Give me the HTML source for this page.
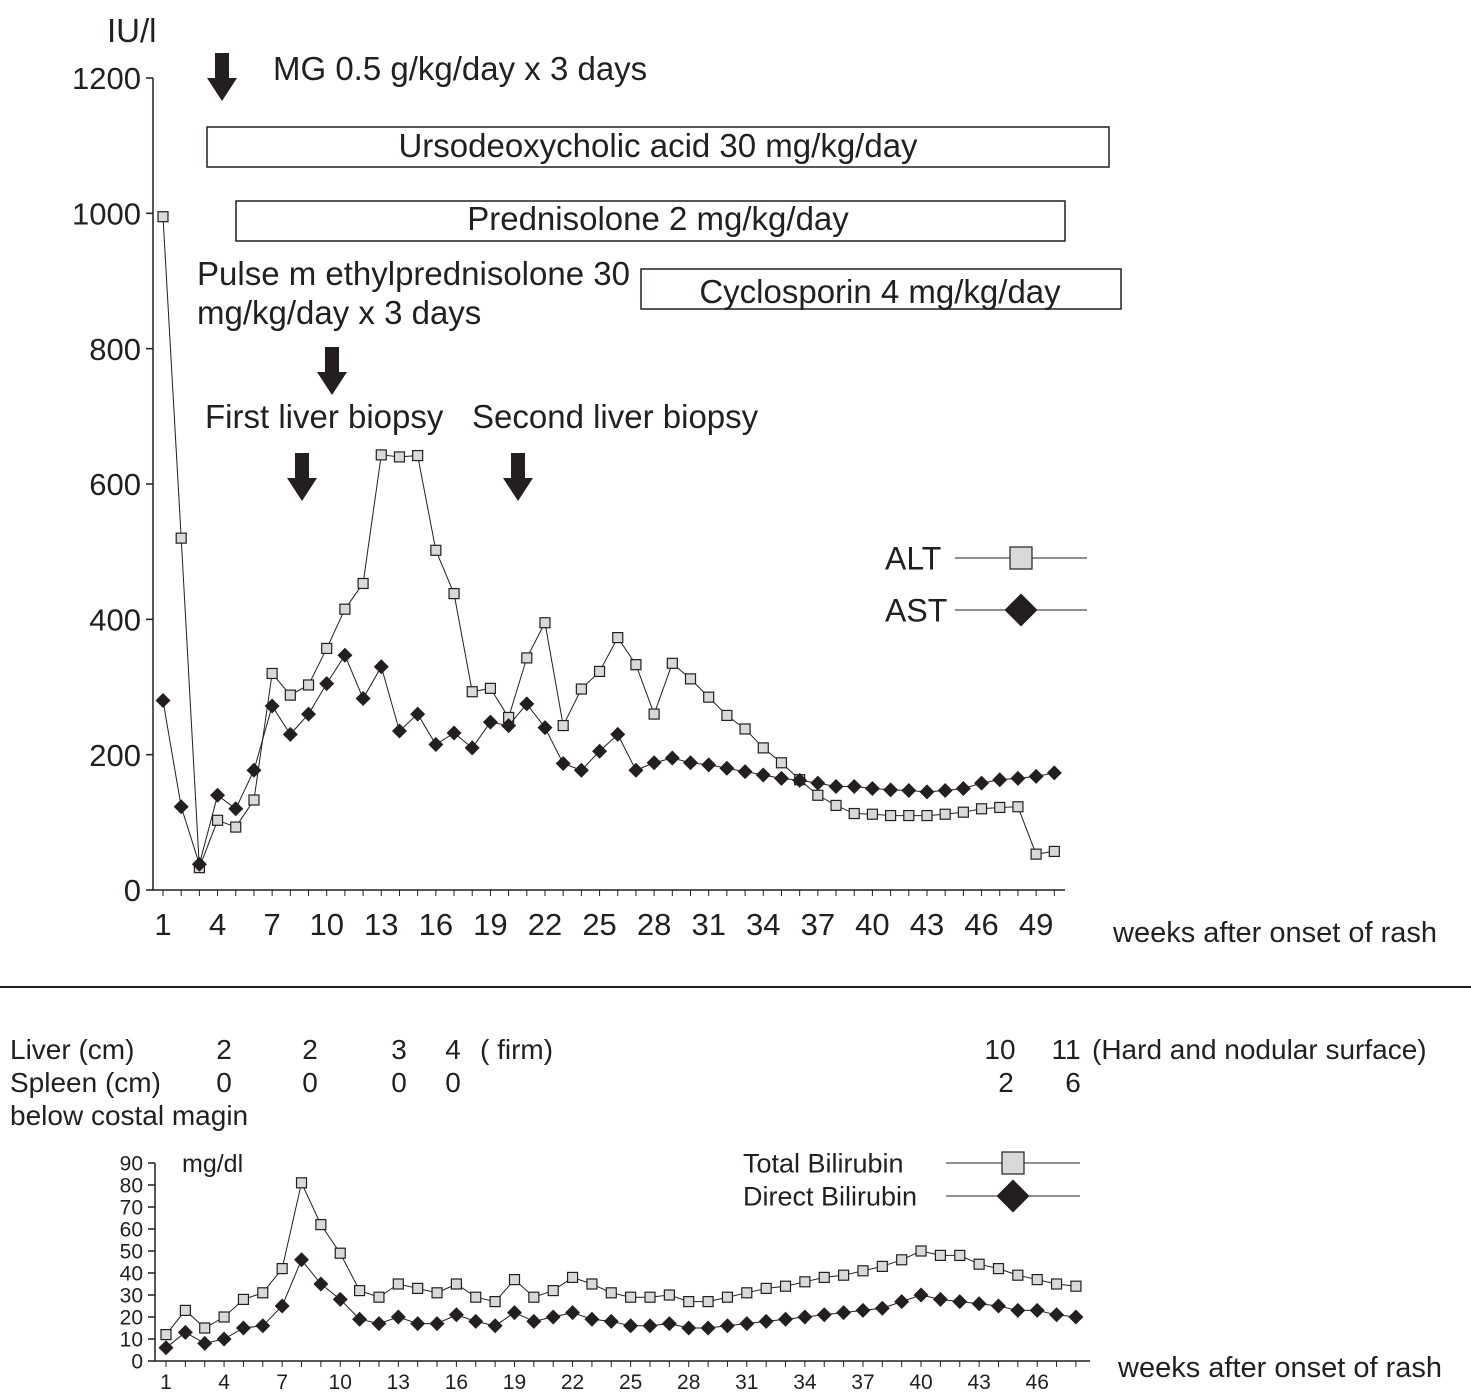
<!DOCTYPE html>
<html><head><meta charset="utf-8"><style>
body{margin:0;background:#fff}
svg{display:block;font-family:"Liberation Sans",Arial,sans-serif;fill:#231f20}
</style></head><body>
<svg id="c" width="1471" height="1395" viewBox="0 0 1471 1395">
<g id="topg"></g>
<g id="botg"></g>
<g font-size="33">
<text x="107" y="42">IU/l</text>
<text x="273" y="80">MG 0.5 g/kg/day x 3 days</text>
<rect x="207" y="127" width="902" height="40" fill="#fff" stroke="#231f20" stroke-width="1.5"/>
<text x="658" y="157" text-anchor="middle">Ursodeoxycholic acid 30 mg/kg/day</text>
<rect x="236" y="201" width="829" height="40" fill="#fff" stroke="#231f20" stroke-width="1.5"/>
<text x="658" y="230" text-anchor="middle">Prednisolone 2 mg/kg/day</text>
<rect x="641" y="269" width="480" height="40" fill="#fff" stroke="#231f20" stroke-width="1.5"/>
<text x="880" y="303" text-anchor="middle">Cyclosporin 4 mg/kg/day</text>
<text x="197" y="285">Pulse m ethylprednisolone 30</text>
<text x="197" y="324">mg/kg/day x 3 days</text>
<text x="205" y="428">First liver biopsy</text>
<text x="472" y="428">Second liver biopsy</text>
<text x="1113" y="942" font-size="29">weeks after onset of rash</text>
<line x1="0" y1="987" x2="1471" y2="987" stroke="#231f20" stroke-width="2"/>
<g font-size="28">
<text x="10" y="1059">Liver (cm)</text><text x="10" y="1092">Spleen (cm)</text><text x="10" y="1125">below costal magin</text>
<text x="224" y="1059" text-anchor="middle">2</text><text x="310" y="1059" text-anchor="middle">2</text><text x="399" y="1059" text-anchor="middle">3</text><text x="453" y="1059" text-anchor="middle">4</text><text x="480" y="1059">( firm)</text>
<text x="1000" y="1059" text-anchor="middle">10</text><text x="1066" y="1059" text-anchor="middle">11</text><text x="1092" y="1059">(Hard and nodular surface)</text>
<text x="224" y="1092" text-anchor="middle">0</text><text x="310" y="1092" text-anchor="middle">0</text><text x="399" y="1092" text-anchor="middle">0</text><text x="453" y="1092" text-anchor="middle">0</text>
<text x="1006" y="1092" text-anchor="middle">2</text><text x="1073" y="1092" text-anchor="middle">6</text>
<text x="182" y="1172" font-size="25">mg/dl</text>
<text x="1118" y="1377" font-size="29">weeks after onset of rash</text>
</g>
</g>
<g fill="#231f20">
<polygon points="215,53 229,53 229,78 237,78 222,101 207,78 215,78"/>
<polygon points="325,347 339,347 339,372 347,372 332,395 317,372 325,372"/>
<polygon points="295,453 309,453 309,478 317,478 302,501 287,478 295,478"/>
<polygon points="511,453 525,453 525,478 533,478 518,501 503,478 511,478"/>
</g>
</svg>
<script>
const NS="http://www.w3.org/2000/svg";
const weeksTop=[];for(let i=1;i<=50;i++)weeksTop.push(i);
const altValues=[995,520,33,103,93,133,320,288,303,357,415,453,643,640,642,502,438,293,298,255,343,395,243,297,323,373,333,260,335,312,285,258,238,210,188,163,140,125,113,112,110,110,110,112,115,120,122,123,53,57];
const astValues=[280,123,38,140,120,177,272,230,260,305,347,283,330,235,260,215,232,210,248,243,275,240,187,177,205,230,177,188,195,188,185,180,175,170,165,162,158,153,153,150,148,147,145,147,150,158,163,165,168,173];
const topYTicks=[0,200,400,600,800,1000,1200];
const topXLabels=[1,4,7,10,13,16,19,22,25,28,31,34,37,40,43,46,49];
const weeksBot=[];for(let i=1;i<=48;i++)weeksBot.push(i);
const totalBili=[12,23,15,20,28,31,42,81,62,49,32,29,35,33,31,35,29,27,37,29,32,38,35,31,29,29,30,27,27,29,31,33,34,36,38,39,41,43,46,50,48,48,44,42,39,37,35,34];
const directBili=[6,13,8,10,15,16,25,46,35,28,19,17,20,17,17,21,18,16,22,18,20,22,19,18,16,16,17,15,15,16,17,18,19,20,21,22,23,24,27,30,28,27,26,25,23,23,21,20];
const botYTicks=[0,10,20,30,40,50,60,70,80,90];
const botXLabels=[1,4,7,10,13,16,19,22,25,28,31,34,37,40,43,46];

function el(p,t,a){const e=document.createElementNS(NS,t);for(const k in a)e.setAttribute(k,a[k]);p.appendChild(e);return e;}
function sq(g,x,y,s){return el(g,'rect',{x:x-s/2,y:y-s/2,width:s,height:s,fill:'#d9d9d9',stroke:'#231f20','stroke-width':1.2});}
function dm(g,x,y,s){return el(g,'polygon',{points:`${x},${y-s} ${x+s},${y} ${x},${y+s} ${x-s},${y}`,fill:'#231f20'});}

function chart(g,o){
  const X=w=>o.x0+(w-1)*o.dx, Y=v=>o.y0-v*o.dy;
  const ax=el(g,'path',{d:`M${o.ax},${Y(o.ymax)}V${o.y0}H${o.xend}`,stroke:'#231f20','stroke-width':1.5,fill:'none'});
  
  
  o.yt.forEach(v=>{el(g,'line',{x1:o.ax-7,x2:o.ax,y1:Y(v),y2:Y(v),stroke:'#231f20','stroke-width':1.5});
    const t=el(g,'text',{x:o.ax-12,y:Y(v)+o.fs*0.36,'text-anchor':'end','font-size':o.fs});t.textContent=v;
    
    });
  o.weeks.forEach(w=>el(g,'line',{x1:X(w),x2:X(w),y1:o.y0,y2:o.y0+6,stroke:'#231f20','stroke-width':1}));
  o.xl.forEach(w=>{const t=el(g,'text',{x:X(w),y:o.y0+o.lyo,'text-anchor':'middle','font-size':o.xfs});t.textContent=w;
    
    });
  [[o.s1,'sq'],[o.s2,'dm']].forEach(([vals,k])=>{
    const sg=el(g,'g',{});
    
    
    el(sg,'polyline',{points:vals.map((v,i)=>X(o.weeks[i])+','+Y(v)).join(' '),fill:'none',stroke:'#231f20','stroke-width':1});
    vals.forEach((v,i)=>{k=='sq'?sq(sg,X(o.weeks[i]),Y(v),o.ms):dm(sg,X(o.weeks[i]),Y(v),o.ms*0.75);});
  });
}
const topG=document.getElementById('topg'),botG=document.getElementById('botg');
chart(topG,{x0:163,dx:18.19,y0:890,dy:812/1200,ax:153,xend:1065,ymax:1200,yt:topYTicks,xl:topXLabels,weeks:weeksTop,s1:altValues,s2:astValues,fs:31,xfs:31,lyo:45,ms:10,n1:'alt-series',n2:'ast-series'});
chart(botG,{x0:166,dx:19.36,y0:1361,dy:2.2,ax:155,xend:1090,ymax:90,yt:botYTicks,xl:botXLabels,weeks:weeksBot,s1:totalBili,s2:directBili,fs:21,xfs:21,lyo:28,ms:10,n1:'total-bilirubin-series',n2:'direct-bilirubin-series'});
function leg(g,x1,x2,y,label,k,s,fs,tx,name){
  const lg=el(g,'g',{});
  
  
  const t=el(lg,'text',{x:tx,y:y+fs*0.36,'font-size':fs});t.textContent=label;
  el(lg,'line',{x1:x1,x2:x2,y1:y,y2:y,stroke:'#231f20','stroke-width':1});
  const m=(x1+x2)/2;k=='sq'?sq(lg,m,y,s):dm(lg,m,y,s*0.75);
}
leg(topG,955,1087,558,'ALT','sq',22,32,885,'legend-alt');
leg(topG,955,1087,610,'AST','dm',22,32,885,'legend-ast');
leg(botG,946,1080,1163,'Total Bilirubin','sq',22,27,743,'legend-total-bilirubin');
leg(botG,946,1080,1196,'Direct Bilirubin','dm',22,27,743,'legend-direct-bilirubin');
</script>
</body></html>
